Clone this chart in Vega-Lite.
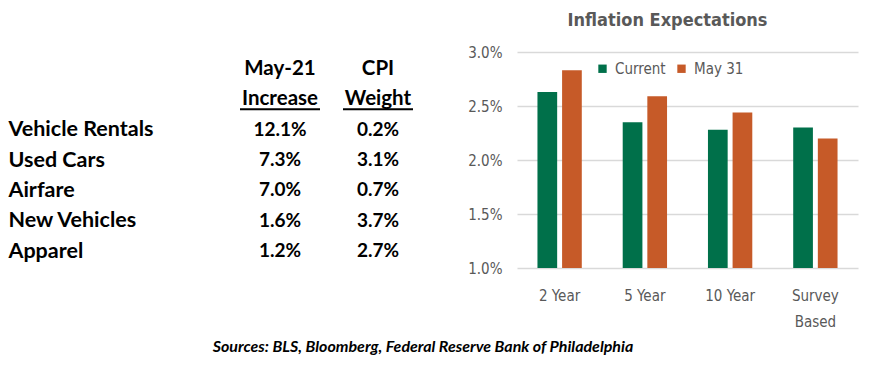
{
  "$schema": "https://vega.github.io/schema/vega-lite/v6.json",
  "background": "white",
  "padding": {"left": 8, "top": 12, "right": 10, "bottom": 5},
  "bounds": "flush",
  "spacing": 90,
  "resolve": {"scale": {"color": "independent"}, "legend": {"color": "independent"}},
  "title": {
    "text": "Sources: BLS, Bloomberg, Federal Reserve Bank of Philadelphia",
    "orient": "bottom",
    "anchor": "middle",
    "font": "Lato",
    "fontSize": 16,
    "fontStyle": "italic",
    "fontWeight": "bold",
    "color": "#000000",
    "offset": 10,
    "dx": -10
  },
  "datasets": {
    "items": [
      {"row": "Vehicle Rentals", "increase": 0.121, "weight": 0.002},
      {"row": "Used Cars", "increase": 0.073, "weight": 0.031},
      {"row": "Airfare", "increase": 0.070, "weight": 0.007},
      {"row": "New Vehicles", "increase": 0.016, "weight": 0.037},
      {"row": "Apparel", "increase": 0.012, "weight": 0.027}
    ],
    "headers": [
      {"row": "h1", "col": "increase", "text": "May-21"},
      {"row": "h2", "col": "increase", "text": "Increase"},
      {"row": "h1", "col": "weight", "text": "CPI"},
      {"row": "h2", "col": "weight", "text": "Weight"}
    ],
    "expect": [
      {"term": "2 Year", "series": "Current", "value": 0.0263},
      {"term": "2 Year", "series": "May 31", "value": 0.0283},
      {"term": "5 Year", "series": "Current", "value": 0.0235},
      {"term": "5 Year", "series": "May 31", "value": 0.0259},
      {"term": "10 Year", "series": "Current", "value": 0.0228},
      {"term": "10 Year", "series": "May 31", "value": 0.0244},
      {"term": "Survey Based", "series": "Current", "value": 0.0230},
      {"term": "Survey Based", "series": "May 31", "value": 0.0220}
    ]
  },
  "hconcat": [
    {
      "width": 196,
      "height": 216,
      "encoding": {
        "y": {
          "field": "row", "type": "nominal",
          "scale": {"type": "point", "domain": ["h1", "h2", "Vehicle Rentals", "Used Cars", "Airfare", "New Vehicles", "Apparel"], "padding": 0.56},
          "axis": {
            "title": null, "domain": false, "ticks": false, "labelAlign": "left", "labelPadding": 223,
            "labelFont": "Lato", "labelFontSize": 21.5, "labelFontWeight": "bold", "labelColor": "#000000",
            "labelExpr": "datum.value == 'h1' || datum.value == 'h2' ? '' : datum.label"
          }
        }
      },
      "layer": [
        {
          "data": {"name": "items"},
          "transform": [{"fold": ["increase", "weight"], "as": ["col", "value"]}],
          "mark": {"type": "text", "align": "center", "baseline": "middle", "font": "Lato", "fontSize": 19, "fontWeight": "bold", "color": "#000000"},
          "encoding": {
            "x": {"field": "col", "type": "nominal", "scale": {"type": "point", "domain": ["increase", "weight"], "padding": 0.5}, "axis": null},
            "text": {"field": "value", "type": "quantitative", "format": ".1%"}
          }
        },
        {
          "data": {"name": "headers"},
          "mark": {"type": "text", "align": "center", "baseline": "middle", "font": "Lato", "fontSize": 20.5, "fontWeight": "bold", "color": "#000000"},
          "encoding": {
            "x": {"field": "col", "type": "nominal"},
            "text": {"field": "text"}
          }
        },
        {
          "data": {"name": "headers"},
          "transform": [{"filter": "datum.row == 'h2' && datum.col == 'increase'"}],
          "mark": {"type": "rule", "color": "#000000", "strokeWidth": 2, "xOffset": -40, "x2Offset": 40, "yOffset": 10, "y2Offset": 10},
          "encoding": {
            "x": {"field": "col", "type": "nominal"},
            "x2": {"field": "col"}
          }
        },
        {
          "data": {"name": "headers"},
          "transform": [{"filter": "datum.row == 'h2' && datum.col == 'weight'"}],
          "mark": {"type": "rule", "color": "#000000", "strokeWidth": 2, "xOffset": -35, "x2Offset": 35, "yOffset": 10, "y2Offset": 10},
          "encoding": {
            "x": {"field": "col", "type": "nominal"},
            "x2": {"field": "col"}
          }
        }
      ]
    },
    {
      "width": 341,
      "height": 216,
      "title": {
        "text": "Inflation Expectations",
        "font": "DejaVu Sans Condensed, sans-serif",
        "fontSize": 18,
        "fontWeight": "bold",
        "color": "#595959",
        "anchor": "middle",
        "offset": 15,
        "dx": -20
      },
      "data": {"name": "expect"},
      "mark": {"type": "bar", "clip": true},
      "encoding": {
        "x": {
          "field": "term", "type": "nominal",
          "sort": ["2 Year", "5 Year", "10 Year", "Survey Based"],
          "scale": {"paddingInner": 0.48, "paddingOuter": 0.24},
          "axis": {
            "title": null, "domain": false, "ticks": false, "labelAngle": 0,
            "labelFont": "DejaVu Sans Condensed, sans-serif",
            "labelFontSize": 15, "labelColor": "#595959", "labelPadding": 20, "labelLineHeight": 26,
            "labelExpr": "datum.label == 'Survey Based' ? ['Survey', 'Based'] : datum.label"
          }
        },
        "xOffset": {"field": "series", "type": "nominal", "scale": {"paddingInner": 0.2}},
        "y": {
          "field": "value", "type": "quantitative",
          "scale": {"domain": [0.01, 0.03], "nice": false, "zero": false},
          "axis": {
            "title": null, "format": ".1%", "values": [0.01, 0.015, 0.02, 0.025, 0.03],
            "domain": false, "ticks": false, "labelPadding": 15,
            "labelFont": "DejaVu Sans Condensed, sans-serif",
            "labelFontSize": 15, "labelColor": "#595959",
            "gridColor": "#D9D9D9", "gridWidth": 1.5
          }
        },
        "color": {
          "field": "series", "type": "nominal",
          "scale": {"domain": ["Current", "May 31"], "range": ["#00704A", "#C65A28"]},
          "legend": {
            "title": null, "orient": "none", "direction": "horizontal",
            "legendX": 78, "legendY": 9, "symbolType": "square", "symbolSize": 70,
            "symbolStrokeWidth": 0, "labelOffset": 5, "columnPadding": 8,
            "labelFont": "DejaVu Sans Condensed, sans-serif",
            "labelFontSize": 15, "labelColor": "#595959"
          }
        }
      }
    }
  ],
  "config": {
    "view": {"stroke": null}
  }
}
